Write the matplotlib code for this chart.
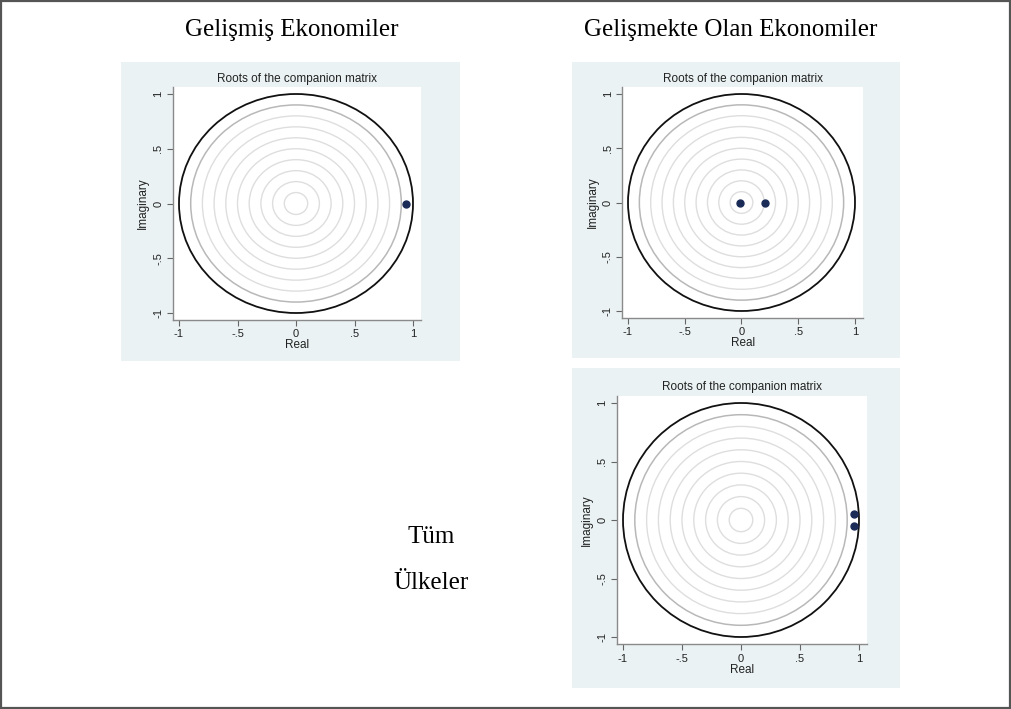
import numpy as np
import matplotlib
matplotlib.use('Agg')
import matplotlib.pyplot as plt
from matplotlib.patches import Circle, Rectangle

# Eigenvalues (real, imaginary) of the companion matrix for each country group
adv_real = [0.94]
adv_imag = [0.0]
dev_real = [-0.015, 0.205]
dev_imag = [0.0, 0.0]
all_real = [0.955, 0.955]
all_imag = [0.053, -0.053]

ticks = [-1, -0.5, 0, 0.5, 1]
tick_labels = ['-1', '-.5', '0', '.5', '1']
grid_radii = [0.1, 0.2, 0.3, 0.4, 0.5, 0.6, 0.7, 0.8]

W, H = 1012, 709
BG = '#eaf2f3'
DOT = '#1b2b58'
XLIM = (-1.05, 1.07)
YLIM = (-1.06, 1.06)

plt.rcParams['font.family'] = ['Liberation Sans', 'DejaVu Sans']

fig = plt.figure(figsize=(W / 100, H / 100), dpi=100)


def px_box(x0, y0, x1, y1):
    # pixel box (top-left origin) -> figure fraction rect
    return [x0 / W, 1 - y1 / H, (x1 - x0) / W, (y1 - y0) / H]


def add_panel(bg, xm1, xp1, yp1, ym1, re, im):
    fig.add_artist(Rectangle((bg[0], bg[1]), bg[2], bg[3], transform=fig.transFigure,
                             facecolor=BG, edgecolor='none', zorder=0))
    # place the axes so that -1 and 1 land on the given pixel columns/rows
    ux = (xp1 - xm1) / 2
    uy = (ym1 - yp1) / 2
    left = xm1 + (XLIM[0] + 1) * ux
    right = xp1 + (XLIM[1] - 1) * ux
    top = yp1 - (YLIM[1] - 1) * uy
    bottom = ym1 - (YLIM[0] + 1) * uy
    ax = fig.add_axes(px_box(left, top, right, bottom))
    ax.set_facecolor('white')
    ax.set_xlim(*XLIM)
    ax.set_ylim(*YLIM)

    for r in grid_radii:
        ax.add_patch(Circle((0, 0), r, fill=False, edgecolor='#dedede', lw=1.0))
    ax.add_patch(Circle((0, 0), 0.9, fill=False, edgecolor='#b8b8b8', lw=1.1))
    ax.add_patch(Circle((0, 0), 1.0, fill=False, edgecolor='#111111', lw=1.3))

    ax.plot(re, im, 'o', color=DOT, markersize=5.0, zorder=5)

    ax.spines['top'].set_visible(False)
    ax.spines['right'].set_visible(False)
    for s in ('left', 'bottom'):
        ax.spines[s].set_color('#8a8a8a')
        ax.spines[s].set_linewidth(1.0)

    ax.set_xticks(ticks)
    ax.set_xticklabels(tick_labels)
    ax.set_yticks(ticks)
    ax.set_yticklabels(tick_labels, rotation=90, va='center')
    ax.tick_params(direction='out', length=4, width=0.8, color='#666666',
                   labelsize=8, labelcolor='#222222', pad=3)
    ax.set_xlabel('Real', fontsize=8.5, color='#222222', labelpad=0)
    ax.set_ylabel('Imaginary', fontsize=8.5, color='#222222', labelpad=3)
    ax.set_title('Roots of the companion matrix', fontsize=8.5, color='#222222', pad=4)
    return ax


# left: advanced economies
add_panel(px_box(121, 62, 460, 361), 179, 413, 94, 313, adv_real, adv_imag)
# right top: developing economies
add_panel(px_box(572, 62, 900, 358), 628, 855, 94, 311, dev_real, dev_imag)
# right bottom: all countries
add_panel(px_box(572, 368, 900, 688), 623, 859, 403, 637, all_real, all_imag)

serif = ['Liberation Serif', 'DejaVu Serif']
fig.text(292 / W, 1 - 30 / H, 'Gelişmiş Ekonomiler', family=serif, fontsize=18,
         ha='center', va='center')
fig.text(731 / W, 1 - 30 / H, 'Gelişmekte Olan Ekonomiler', family=serif, fontsize=18,
         ha='center', va='center')
fig.text(431 / W, 1 - 537 / H, 'Tüm', family=serif, fontsize=18, ha='center', va='center')
fig.text(431 / W, 1 - 583 / H, 'Ülkeler', family=serif, fontsize=18, ha='center', va='center')

# outer frame
fig.add_artist(Rectangle((0.001, 0.002), 0.997, 0.996, transform=fig.transFigure,
                         fill=False, edgecolor='#555555', lw=1.6))

fig.savefig('out.png', dpi=100)
